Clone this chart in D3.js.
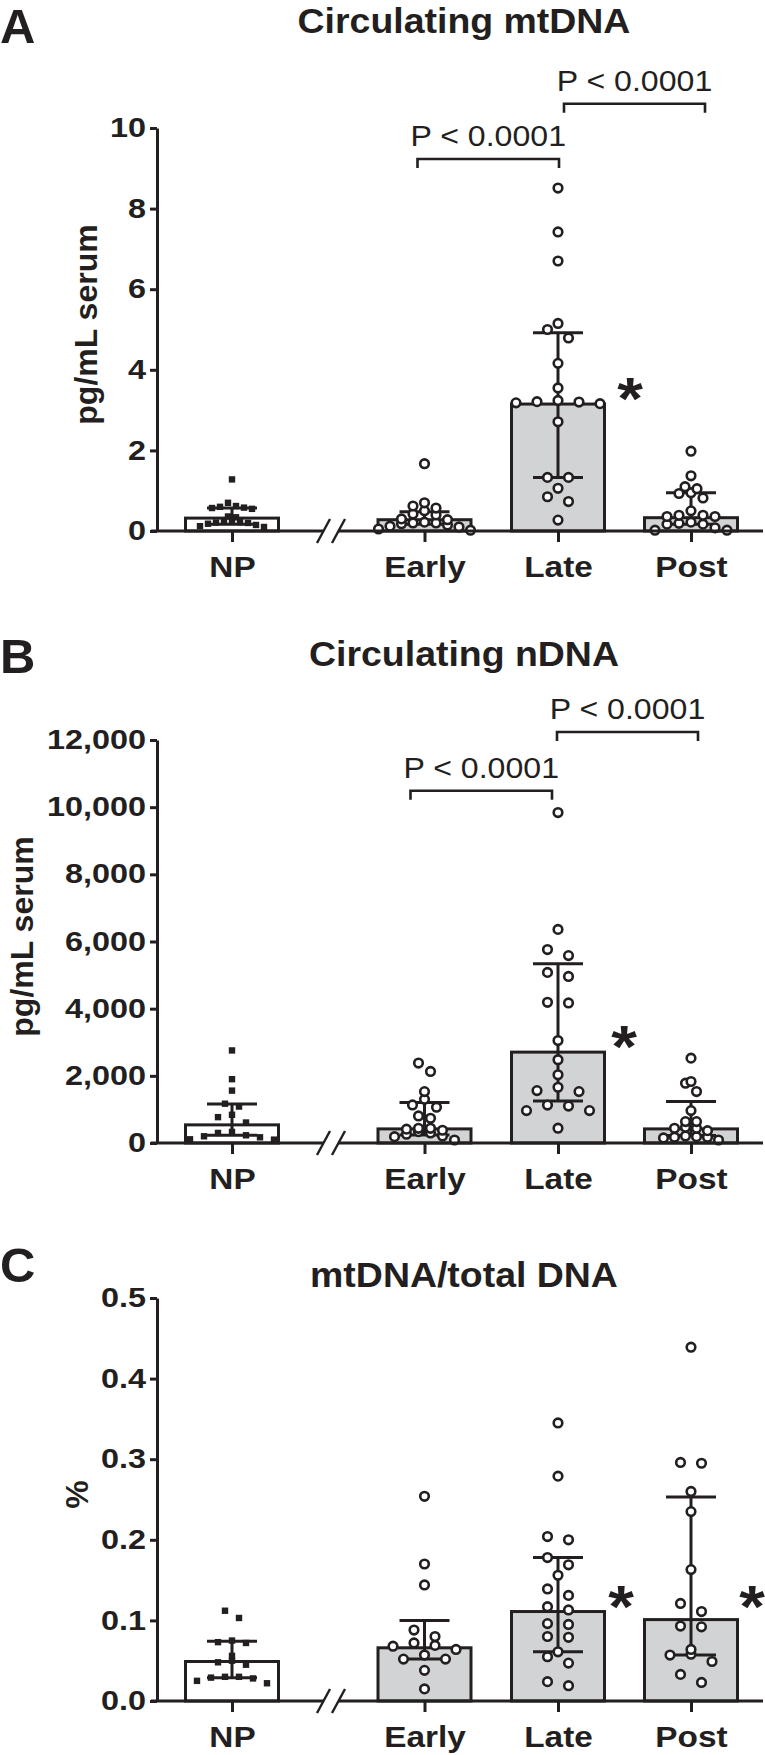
<!DOCTYPE html>
<html><head><meta charset="utf-8">
<script src="https://cdn.jsdelivr.net/npm/d3@7"></script>
<style>body{margin:0;background:#fff} svg{display:block}</style>
</head><body>
<svg id="chart" width="765" height="1755"></svg>
<script>
// ---------------- DATA ----------------
const categories = ["NP", "Early", "Late", "Post"];
const panelLetters = ["A", "B", "C"];
const panelTitles = ["Circulating mtDNA", "Circulating nDNA", "mtDNA/total DNA"];
const yTitles = ["pg/mL serum", "pg/mL serum", "%"];

const ticksA = [0, 2, 4, 6, 8, 10];
const ticksB = [0, 2000, 4000, 6000, 8000, 10000, 12000];
const ticksC = [0, 0.1, 0.2, 0.3, 0.4, 0.5];

// Panel A: circulating mtDNA (pg/mL serum)
const mtNP    = [1.28, 0.70, 0.62, 0.60, 0.58, 0.57, 0.55, 0.36, 0.34, 0.25, 0.24, 0.22, 0.21, 0.20, 0.18, 0.15, 0.12, 0.10];
const mtEarly = [1.67, 0.70, 0.62, 0.57, 0.50, 0.42, 0.40, 0.30, 0.28, 0.22, 0.20, 0.20, 0.18, 0.15, 0.12, 0.10, 0.05, 0.02];
const mtLate  = [8.51, 7.42, 6.70, 5.15, 5.00, 4.79, 4.16, 3.55, 3.24, 3.21, 3.20, 3.18, 3.16, 2.71, 1.33, 1.33, 1.06, 0.85, 0.73, 0.27];
const mtPost  = [1.98, 1.37, 1.10, 1.05, 0.95, 0.93, 0.82, 0.50, 0.39, 0.39, 0.36, 0.36, 0.22, 0.19, 0.17, 0.17, 0.08, 0.02, 0.02];
const mtMedian = [0.32, 0.28, 3.15, 0.33];
const mtQ1     = [0.17, 0.17, 1.33, 0.17];
const mtQ3     = [0.57, 0.48, 4.92, 0.95];

// Panel B: circulating nDNA (pg/mL serum)
const nNP    = [2756, 1900, 1560, 1170, 1085, 840, 770, 610, 330, 300, 230, 200, 170, 110, 100];
const nEarly = [2380, 2130, 1530, 1300, 1134, 1065, 806, 736, 438, 438, 413, 380, 338, 300, 260, 209, 189, 90];
const nLate  = [9840, 6360, 5760, 5580, 5080, 4960, 4190, 4170, 3050, 2480, 2030, 1660, 1560, 1530, 1130, 1100, 965, 965, 440];
const nPost  = [2527, 1831, 1781, 1532, 965, 637, 637, 468, 438, 438, 368, 209, 189, 169, 169, 150, 90];
const nMedian = [540, 420, 2706, 420];
const nQ1     = [230, 240, 1254, 220];
const nQ3     = [1164, 1204, 5334, 1234];

// Panel C: mtDNA / total DNA (%)
const rNP    = [0.112, 0.103, 0.075, 0.073, 0.072, 0.056, 0.050, 0.048, 0.045, 0.030, 0.030, 0.029, 0.028, 0.025, 0.022];
const rEarly = [0.254, 0.170, 0.144, 0.088, 0.080, 0.072, 0.069, 0.068, 0.064, 0.057, 0.052, 0.052, 0.038, 0.015];
const rLate  = [0.345, 0.279, 0.204, 0.200, 0.178, 0.169, 0.156, 0.139, 0.131, 0.117, 0.113, 0.096, 0.095, 0.080, 0.079, 0.061, 0.055, 0.047, 0.024, 0.019];
const rPost  = [0.439, 0.296, 0.295, 0.260, 0.235, 0.163, 0.121, 0.111, 0.093, 0.092, 0.064, 0.058, 0.057, 0.049, 0.033, 0.023];
const rMedian = [0.049, 0.066, 0.111, 0.101];
const rQ1     = [0.029, 0.052, 0.061, 0.057];
const rQ3     = [0.074, 0.100, 0.178, 0.253];

// Comparisons
const pLabels = ["P < 0.0001", "P < 0.0001"];
const pPairs = [["Early", "Late"], ["Late", "Post"]];
const pLevelsA = [9.23, 10.6];
const pLevelsB = [10490, 12240];
const starsA = ["Late"];
const starsB = ["Late"];
const starsC = ["Late", "Post"];

// ---------------- LAYOUT / STYLE ----------------
const ink = "#231f20";
const barGrey = "#d1d3d4";
const FONT = "'Liberation Sans', Arial, Helvetica, sans-serif";
const svg = d3.select("#chart");
const x = d3.scaleOrdinal(categories, [232, 424.5, 558, 691]);
const barW = 93;
const axisX = 157;
const axisRight = 763;
const breakX = 331;

function stretch(sel, sx) {
  sel.attr("transform", function () {
    const tx = +this.getAttribute("x") || 0, ty = +this.getAttribute("y") || 0;
    return `translate(${tx},${ty}) scale(${sx},1) translate(${-tx},${-ty})`;
  });
}

// simple GraphPad-like row swarm
function swarm(values, y, step, thresh) {
  const pts = values.map(v => ({ v, py: y(v), dx: 0 })).sort((a, b) => b.py - a.py);
  const rows = [];
  let cur = null;
  for (const p of pts) {
    if (!cur || cur.start - p.py >= thresh) { cur = { start: p.py, items: [] }; rows.push(cur); }
    cur.items.push(p);
  }
  rows.forEach(r => {
    const n = r.items.length;
    const offs = d3.range(n).map(i => (i - (n - 1) / 2) * step)
      .sort((a, b) => Math.abs(a) - Math.abs(b) || a - b);
    r.items.slice().sort((a, b) => a.py - b.py).forEach((p, i) => p.dx = offs[i]);
  });
  return pts;
}

const panels = [
  { groups: [mtNP, mtEarly, mtLate, mtPost], med: mtMedian, q1: mtQ1, q3: mtQ3,
    domain: [0, 10], ticks: ticksA, fmt: d3.format("d"), range: [531, 128],
    titleY: 33, letterY: 43, yTitleX: 97, steps: [8, 11.5, 21, 12],
    pLevels: pLevelsA, pDx: 3, stars: starsA, starDx: [72] },
  { groups: [nNP, nEarly, nLate, nPost], med: nMedian, q1: nQ1, q3: nQ3,
    domain: [0, 12000], ticks: ticksB, fmt: d3.format(","), range: [1143, 740],
    titleY: 666, letterY: 673, yTitleX: 33, steps: [14, 12, 21, 11],
    pLevels: pLevelsB, pDx: -4, stars: starsB, starDx: [66] },
  { groups: [rNP, rEarly, rLate, rPost], med: rMedian, q1: rQ1, q3: rQ3,
    domain: [0, 0.5], ticks: ticksC, fmt: d3.format(".1f"), range: [1701, 1298],
    titleY: 1287, letterY: 1282, yTitleX: 88, steps: [14, 21, 21, 21],
    pLevels: null, pDx: 0, stars: starsC, starDx: [63, 61] }
];
const pPad = [[-10, -2], [3, 11]];

panels.forEach((P, pi) => {
  const g = svg.append("g");
  const y = d3.scaleLinear().domain(P.domain).range(P.range);
  const y0 = y(0);

  // panel letter & title
  g.append("text").attr("x", 0).attr("y", P.letterY).text(panelLetters[pi])
    .attr("font-family", FONT).attr("font-weight", "bold").attr("font-size", 48).attr("fill", ink)
    .call(stretch, 1.02);
  g.append("text").attr("x", 464).attr("y", P.titleY).attr("text-anchor", "middle").text(panelTitles[pi])
    .attr("font-family", FONT).attr("font-weight", "bold").attr("font-size", 35).attr("fill", ink)
    .call(stretch, 1.07);

  // y title
  const yc = (P.range[0] + P.range[1]) / 2 - 5;
  g.append("text").attr("transform", `translate(${P.yTitleX},${yc}) rotate(-90)`)
    .attr("text-anchor", "middle").text(yTitles[pi])
    .attr("font-family", FONT).attr("font-weight", "bold").attr("font-size", 32).attr("fill", ink);

  // bars
  g.selectAll("rect.bar").data(categories).join("rect").attr("class", "bar")
    .attr("x", c => x(c) - barW / 2).attr("width", barW)
    .attr("y", (c, i) => y(P.med[i])).attr("height", (c, i) => y0 - y(P.med[i]))
    .attr("fill", c => c === "NP" ? "#fff" : barGrey)
    .attr("stroke", ink).attr("stroke-width", 3);

  // whiskers (median with interquartile range)
  categories.forEach((c, i) => {
    const wg = g.append("g").attr("stroke", ink).attr("stroke-width", 3).attr("fill", "none");
    wg.append("line").attr("x1", x(c)).attr("x2", x(c)).attr("y1", y(P.q1[i])).attr("y2", y(P.q3[i]));
    [P.q1[i], P.q3[i]].forEach(q => wg.append("line")
      .attr("x1", x(c) - 25).attr("x2", x(c) + 25).attr("y1", y(q)).attr("y2", y(q)));
  });

  // points
  categories.forEach((c, i) => {
    const isSq = c === "NP";
    const pts = swarm(P.groups[i], y, P.steps[i], isSq ? 8 : 9);
    if (isSq) {
      g.selectAll(null).data(pts).join("rect")
        .attr("x", d => x(c) + d.dx - 3.2).attr("y", d => d.py - 3.2)
        .attr("width", 6.4).attr("height", 6.4).attr("fill", ink);
    } else {
      g.selectAll(null).data(pts).join("circle")
        .attr("cx", d => x(c) + d.dx).attr("cy", d => d.py).attr("r", 4.3)
        .attr("fill", "#fff").attr("stroke", ink).attr("stroke-width", 2.6);
    }
  });

  // y axis
  const ya = g.append("g").attr("transform", `translate(${axisX},0)`)
    .call(d3.axisLeft(y).tickValues(P.ticks).tickFormat(P.fmt).tickSize(7).tickPadding(4).tickSizeOuter(0));
  ya.select(".domain").attr("stroke", ink).attr("stroke-width", 3);
  ya.selectAll(".tick line").attr("stroke", ink).attr("stroke-width", 3);
  ya.selectAll(".tick text").attr("font-family", FONT).attr("font-weight", "bold")
    .attr("font-size", 27).attr("fill", ink).call(stretch, 1.2);

  // x axis with break
  const xa = g.append("g").attr("transform", `translate(0,${y0})`)
    .call(d3.axisBottom(x).tickSize(11).tickSizeOuter(0));
  xa.select(".domain").remove();
  xa.selectAll(".tick line").attr("stroke", ink).attr("stroke-width", 3);
  xa.selectAll(".tick text").attr("y", 46).attr("dy", 0).attr("font-family", FONT)
    .attr("font-weight", "bold").attr("font-size", 29).attr("fill", ink).call(stretch, 1.15);
  const ax = g.append("g").attr("stroke", ink).attr("stroke-width", 3);
  ax.append("line").attr("x1", axisX - 6).attr("x2", breakX - 7).attr("y1", y0).attr("y2", y0);
  ax.append("line").attr("x1", breakX + 7).attr("x2", axisRight).attr("y1", y0).attr("y2", y0);
  [-14, 1].forEach(o => ax.append("line").attr("stroke-width", 2.4)
    .attr("x1", breakX + o).attr("y1", y0 + 12).attr("x2", breakX + o + 13).attr("y2", y0 - 12));

  // significance brackets
  if (P.pLevels) {
    pPairs.forEach((pr, k) => {
      const x1 = x(pr[0]) + pPad[k][0] + P.pDx, x2 = x(pr[1]) + pPad[k][1] + P.pDx;
      const yb = y(P.pLevels[k]);
      g.append("path").attr("d", `M${x1},${yb + 9}V${yb}H${x2}V${yb + 9}`)
        .attr("fill", "none").attr("stroke", ink).attr("stroke-width", 2.6);
      g.append("text").attr("x", (x1 + x2) / 2).attr("y", yb - 13).attr("text-anchor", "middle")
        .text(pLabels[k]).attr("font-family", FONT).attr("font-size", 30).attr("fill", ink)
        .call(stretch, 1.07);
    });
  }

  // stars vs NP (aligned at the highest starred bar of the panel)
  const starY = d3.min(P.stars, c => y(P.med[categories.indexOf(c)])) + 15;
  P.stars.forEach((c, k) => {
    g.append("text").attr("x", x(c) + P.starDx[k]).attr("y", starY).attr("text-anchor", "middle")
      .text("*").attr("font-family", FONT).attr("font-weight", "bold").attr("font-size", 60)
      .attr("fill", ink).call(stretch, 1.1);
  });
});
</script>
</body></html>
